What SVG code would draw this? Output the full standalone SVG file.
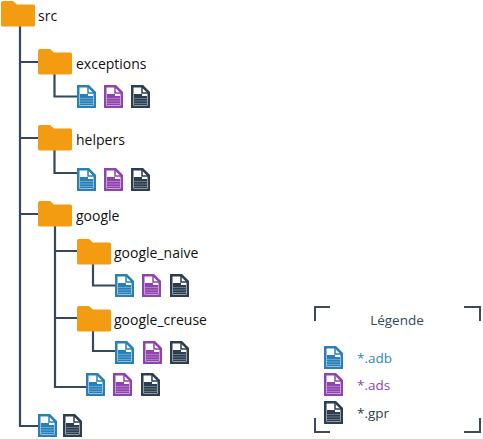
<svg xmlns="http://www.w3.org/2000/svg" width="483" height="439" viewBox="0 0 483 439">
<style>
text{font-family:"Open Sans","Noto Sans",sans-serif;font-size:14px;fill:#111}
.l{font-size:13.500px}
.c{fill:none;stroke:#34495e;stroke-width:2.200}
.b{fill:none;stroke:#3d4a5a;stroke-width:2}
.adb{color:#2980b9}.ads{color:#8e44ad}.gpr{color:#2c3e50}
</style>
<defs>
<symbol id="folder" width="34" height="26" viewBox="0 0 34 26"><path d="M2 0H12L16 3.500H32.500Q34 3.500 34 5V24Q34 25.500 32.500 25.500H2Q0 25.500 0 24V2Q0 0 2 0Z" fill="#f39c12"/></symbol>
<symbol id="file" width="19" height="23" viewBox="0 0 19 23"><path d="M1.250 1.250H11.500L17.750 7.500V21.750H1.250Z" fill="#fff" stroke="currentColor" stroke-width="2.500"/><path d="M11 1V8H18" fill="none" stroke="currentColor" stroke-width="1.500"/><path d="M3 9H11V11H16V20H3Z" fill="currentColor"/><path d="M3 13.500H16M3 16H16M3 18.500H16" stroke="#fff" stroke-width=".6" opacity=".5"/></symbol>
</defs>
<g id="connectors">
<path class="c" d="M20 24V426H40M20 62H40M20 138H40M20 214H40"/>
<path class="c" d="M54.500 73V96.500H79M54.500 149V173H79M55 226V387H88M55 251H78M55 318H78"/>
<path class="c" d="M93 263V285.500H116M93 330V351H117"/>
</g>
<g id="src"><use href="#folder" x="1" y="1"/><text x="38" y="21">src</text></g>
<g id="exceptions"><use href="#folder" x="38" y="49"/><text x="76" y="69">exceptions</text></g>
<g id="exceptions-files"><use href="#file" class="adb" x="77" y="85"/><use href="#file" class="ads" x="104" y="85"/><use href="#file" class="gpr" x="131" y="85"/></g>
<g id="helpers"><use href="#folder" x="38" y="125"/><text x="76" y="145">helpers</text></g>
<g id="helpers-files"><use href="#file" class="adb" x="77" y="168"/><use href="#file" class="ads" x="104" y="168"/><use href="#file" class="gpr" x="131" y="168"/></g>
<g id="google"><use href="#folder" x="38" y="201"/><text x="76" y="221">google</text></g>
<g id="google_naive"><use href="#folder" x="77" y="239"/><text x="114" y="258">google_naive</text></g>
<g id="google_naive-files"><use href="#file" class="adb" x="115" y="274"/><use href="#file" class="ads" x="142" y="274"/><use href="#file" class="gpr" x="170" y="274"/></g>
<g id="google_creuse"><use href="#folder" x="77" y="306"/><text x="114" y="325">google_creuse</text></g>
<g id="google_creuse-files"><use href="#file" class="adb" x="115" y="341"/><use href="#file" class="ads" x="143" y="341"/><use href="#file" class="gpr" x="170" y="341"/></g>
<g id="google-files"><use href="#file" class="adb" x="86" y="373"/><use href="#file" class="ads" x="113" y="373"/><use href="#file" class="gpr" x="141" y="373"/></g>
<g id="src-files"><use href="#file" class="adb" x="38" y="414"/><use href="#file" class="gpr" x="63" y="414"/></g>
<g id="legend">
<path class="b" d="M315 321V307H330M464 307H480V321M315 418V432H330M464 432H480V418"/>
<text class="l" x="397" y="325" text-anchor="middle" style="fill:#34495e">Légende</text>
<use href="#file" class="adb" x="324" y="346"/><text class="l" x="357" y="363" style="fill:#2e86c1">*.adb</text>
<use href="#file" class="ads" x="324" y="373"/><text class="l" x="357" y="390" style="fill:#8e44ad">*.ads</text>
<use href="#file" class="gpr" x="324" y="401"/><text class="l" x="357" y="418" style="fill:#2c3e50">*.gpr</text>
</g>
</svg>
